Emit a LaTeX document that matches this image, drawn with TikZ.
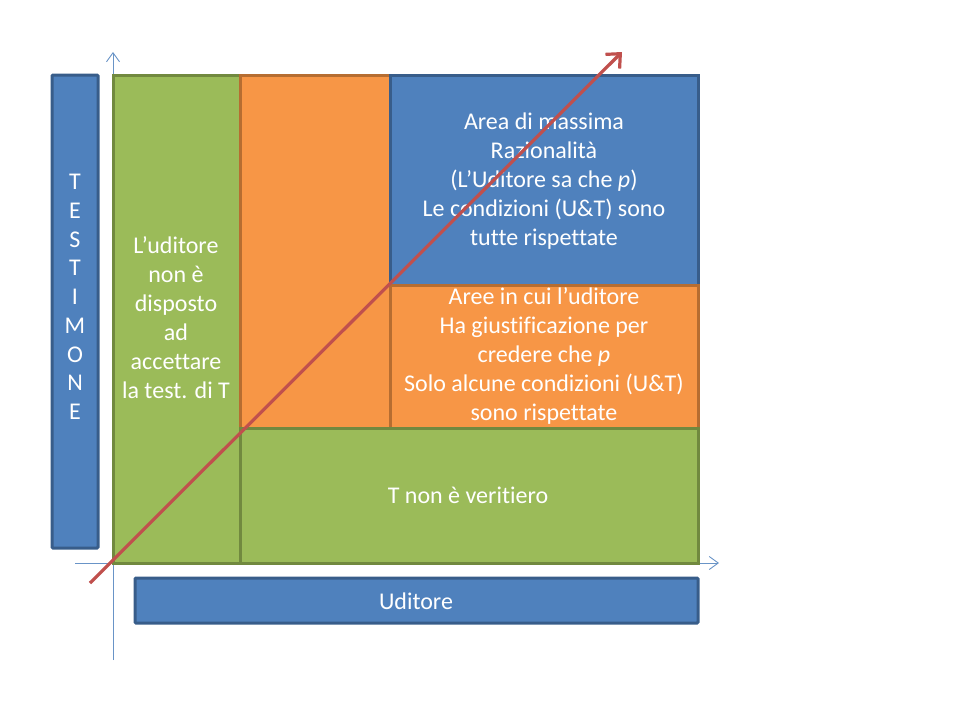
\documentclass[tikz,border=0pt]{standalone}
\usepackage{fontspec}
\setmainfont[RawFeature={-liga;-calt;-clig}]{Carlito}
\usetikzlibrary{arrows.meta}
\definecolor{gfill}{HTML}{9BBB59}
\definecolor{gline}{HTML}{71893F}
\definecolor{ofill}{HTML}{F79646}
\definecolor{oline}{HTML}{B66D31}
\definecolor{bfill}{HTML}{4F81BD}
\definecolor{bline}{HTML}{385D8A}
\definecolor{rline}{HTML}{C0504D}
\tikzset{
  greenbox/.style={draw=gline,fill=gfill,line width=3pt},
  orangebox/.style={draw=oline,fill=ofill,line width=3pt},
  bluebox/.style={draw=bline,fill=bfill,line width=3pt,rounded corners=1pt},
  lbl/.style={text=white,align=center,font=\fontsize{24}{29}\selectfont,inner sep=0pt},
  axis/.style={draw=bfill!85,line width=0.9pt,-{Straight Barb[length=9pt,width=13pt]}},
}
\begin{document}
\begin{tikzpicture}[x=1pt,y=-1pt]
\useasboundingbox (0,0) rectangle (960,720);
% axes
\coordinate (yb) at (113,660);
\coordinate (yt) at (113,52);
\coordinate (xl) at (75,563);
\coordinate (xr) at (719,563);
\draw[axis] (yb) -- (yt);
\draw[axis] (xl) -- (xr);
% regions
\path[greenbox] (113,75) rectangle (240,563) node[pos=0.5] (gl) {};
\path[orangebox] (240,75) rectangle (390,428) node[pos=0.5] (oc) {};
\path[bluebox,rounded corners=0pt] (390,75) rectangle (698,285) node[pos=0.5] (bt) {};
\path[orangebox] (390,285) rectangle (698,428) node[pos=0.5] (or) {};
\path[greenbox] (240,428) rectangle (698,563) node[pos=0.5] (gb) {};
% side boxes
\path[bluebox] (52,75) rectangle (98,548) node[pos=0.5] (ts) {};
\path[bluebox] (135,578) rectangle (698,623) node[pos=0.5] (ud) {};
% labels
\node[lbl,font=\fontsize{24}{28.75}\selectfont] (tsl) at (75,297) {T\\E\\S\\T\\I\\M\\O\\N\\E};
\node[lbl] (udl) at (416,601) {Uditore};
\node[lbl] (gll) at (176,318) {L’uditore\\non è\\disposto\\ad\\accettare\\la test. di T};
\node[lbl] (btl) at (544,181) {Area di massima\\Razionalità\\(L’Uditore sa che \emph{p})\\Le condizioni (U\&T) sono\\tutte rispettate};
\node[lbl] (orl) at (544,356) {Aree in cui l’uditore\\Ha giustificazione per\\credere che \emph{p}\\Solo alcune condizioni (U\&T)\\sono rispettate};
\node[lbl] (gbl) at (468,495) {T non è veritiero};
% red arrow
\coordinate (ra) at (90,583);
\coordinate (rb) at (622,52);
\draw[draw=rline,line width=3.2pt,-{Straight Barb[length=11pt,width=20pt,line width=3.2pt]}] (ra) -- (rb);
\end{tikzpicture}
\end{document}
